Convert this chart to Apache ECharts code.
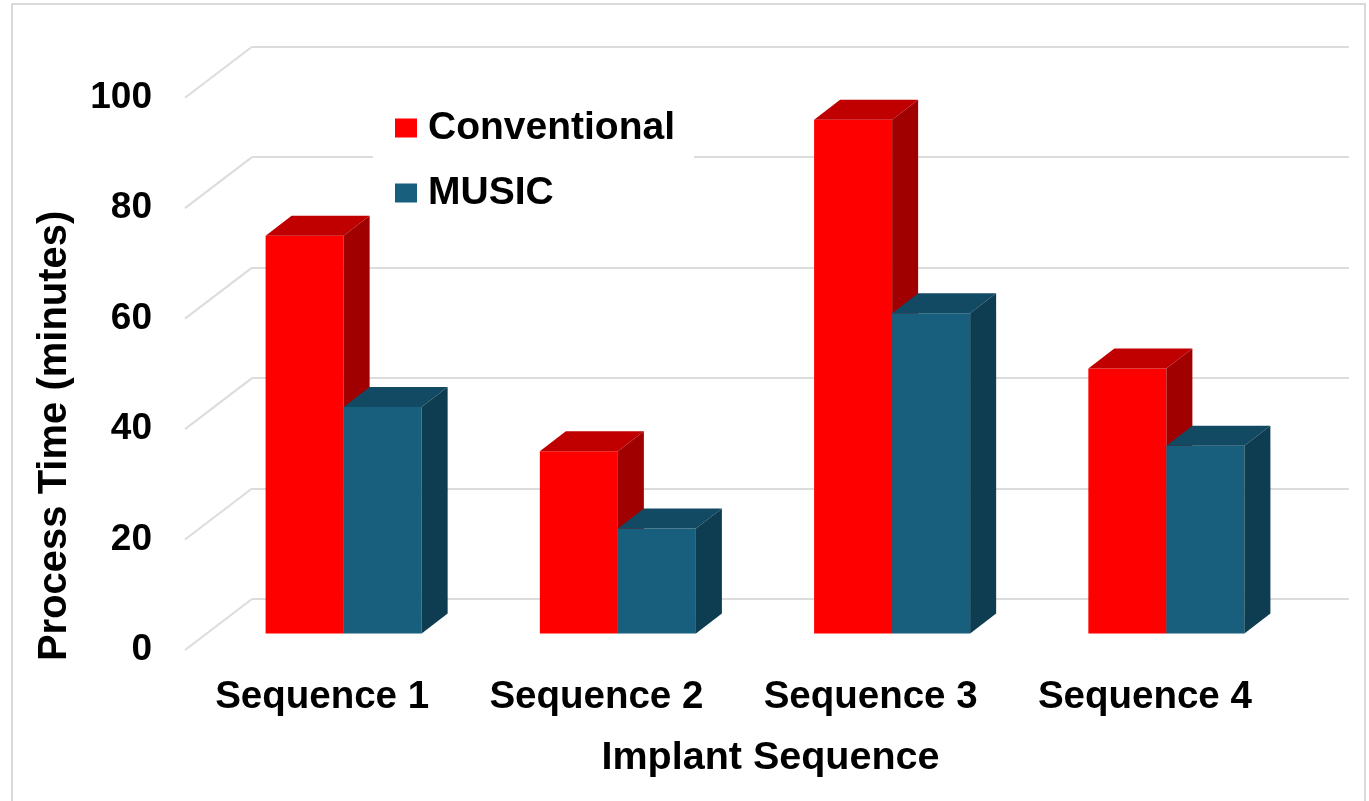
<!DOCTYPE html>
<html>
<head>
<meta charset="utf-8">
<title>Process Time by Implant Sequence</title>
<script src="https://cdn.jsdelivr.net/npm/echarts@6/dist/echarts.min.js"></script>
<style>
  html, body { margin: 0; padding: 0; background: #ffffff; }
  #chart { width: 1369px; height: 801px; }
</style>
</head>
<body>
<div id="chart"></div>
<script>
// ---- data ----
const CATEGORIES = ['Sequence 1', 'Sequence 2', 'Sequence 3', 'Sequence 4'];
const SERIES_NAMES = ['Conventional', 'MUSIC'];
const CONVENTIONAL = [72, 33, 93, 48];
const MUSIC = [41, 19, 58, 34];
const Y_TICKS = [0, 20, 40, 60, 80, 100];

// ---- styling ----
const FONT = "'Liberation Sans', Arial, sans-serif";
const FACE_COLORS = [
  { front: '#FF0000', top: '#C00000', side: '#A00000' },
  { front: '#185F7E', top: '#124A63', side: '#0E3C51' }
];
const PLOT_W = 1097;
const PLOT_H = 552.3;
const BAR_FRAC = 0.2845;          // bar width as share of a category band
const BAR_DEPTH = [26, -20];      // receding offset of a bar's top/side faces
const FLOOR_DEPTH = [67, -51];    // front edge of floor -> back wall

const chart = echarts.init(document.getElementById('chart'), null, { renderer: 'canvas' });

function barRenderer(seriesIdx) {
  const c = FACE_COLORS[seriesIdx];
  return function (params, api) {
    const cat = api.value(0);
    const val = api.value(1);
    const top = api.coord([cat, val]);
    const base = api.coord([cat, 0]);
    const band = api.size([1, 0])[0];
    const w = band * BAR_FRAC;
    const x0 = seriesIdx === 0 ? top[0] - w : top[0];
    const x1 = x0 + w;
    const yt = top[1], yb = base[1];
    const dx = BAR_DEPTH[0], dy = BAR_DEPTH[1];
    return {
      type: 'group',
      children: [
        { type: 'polygon', shape: { points: [[x0, yt], [x1, yt], [x1, yb], [x0, yb]] },
          style: { fill: c.front } },
        { type: 'polygon', shape: { points: [[x0, yt], [x1, yt], [x1 + dx, yt + dy], [x0 + dx, yt + dy]] },
          style: { fill: c.top } },
        { type: 'polygon', shape: { points: [[x1, yt], [x1 + dx, yt + dy], [x1 + dx, yb + dy], [x1, yb]] },
          style: { fill: c.side } }
      ]
    };
  };
}

function sideWallRenderer(params, api) {
  const p = api.coord([0, api.value(1)]);
  const x = params.coordSys.x;
  return {
    type: 'line',
    shape: { x1: x, y1: p[1], x2: x + FLOOR_DEPTH[0], y2: p[1] + FLOOR_DEPTH[1] },
    style: { stroke: '#dcdcdc', lineWidth: 2 }
  };
}

const valueAxisBase = { type: 'value', min: 0, max: 100, interval: 20 };

const option = {
  animation: false,
  backgroundColor: '#ffffff',
  graphic: [{
    type: 'rect', silent: true, z: -10,
    shape: { x: 12, y: 4, width: 1353, height: 820 },
    style: { fill: 'none', stroke: '#d9d9d9', lineWidth: 2 }
  }],
  legend: {
    data: SERIES_NAMES,
    orient: 'vertical',
    left: 373, top: 94,
    backgroundColor: '#ffffff',
    padding: [14, 19, 10, 22],
    itemWidth: 22, itemHeight: 19, itemGap: 25,
    icon: 'rect',
    textStyle: { fontFamily: FONT, fontSize: 39, fontWeight: 'bold', color: '#000000',
                 lineHeight: 40, padding: [0, 0, 0, 6] }
  },
  grid: [
    // back wall
    { left: 252, top: 46.7, width: PLOT_W, height: PLOT_H },
    // front edge of the floor (axis labels)
    { left: 185, top: 97.7, width: PLOT_W, height: PLOT_H },
    // plane of the bars' front faces
    { left: 206.5, top: 81.2, width: PLOT_W, height: PLOT_H }
  ],
  xAxis: [
    { gridIndex: 0, type: 'category', data: CATEGORIES, show: false },
    { gridIndex: 1, type: 'category', data: CATEGORIES,
      axisLine: { show: false }, axisTick: { show: false }, splitLine: { show: false },
      axisLabel: { interval: 0, hideOverlap: false, fontFamily: FONT, fontSize: 38.5,
                   fontWeight: 'bold', color: '#000000', margin: 28, lineHeight: 38 },
      name: 'Implant Sequence', nameLocation: 'middle', nameGap: 89,
      nameTextStyle: { fontFamily: FONT, fontSize: 39.5, fontWeight: 'bold', color: '#000000',
                       lineHeight: 39, padding: [0, 0, 0, 74] } },
    { gridIndex: 2, type: 'category', data: CATEGORIES, show: false }
  ],
  yAxis: [
    Object.assign({ gridIndex: 0, axisLine: { show: false }, axisTick: { show: false },
      axisLabel: { show: false },
      splitLine: { show: true, lineStyle: { color: '#dcdcdc', width: 2 } } }, valueAxisBase),
    Object.assign({ gridIndex: 1, axisLine: { show: false }, axisTick: { show: false },
      splitLine: { show: false },
      axisLabel: { fontFamily: FONT, fontSize: 37, fontWeight: 'bold', color: '#000000', margin: 33 },
      name: 'Process Time (minutes)', nameLocation: 'middle', nameRotate: 90, nameGap: 110,
      nameTextStyle: { fontFamily: FONT, fontSize: 40, fontWeight: 'bold', color: '#000000',
                       lineHeight: 40, padding: [0, 124, 0, 0] } }, valueAxisBase),
    Object.assign({ gridIndex: 2, show: false }, valueAxisBase)
  ],
  series: [
    {
      type: 'custom', name: 'walls', silent: true,
      xAxisIndex: 1, yAxisIndex: 1, z: 1,
      data: Y_TICKS.map(v => [0, v]),
      renderItem: sideWallRenderer
    },
    {
      type: 'custom', name: SERIES_NAMES[0],
      xAxisIndex: 2, yAxisIndex: 2, z: 2,
      itemStyle: { color: FACE_COLORS[0].front },
      data: CONVENTIONAL.map((v, i) => [i, v]),
      renderItem: barRenderer(0)
    },
    {
      type: 'custom', name: SERIES_NAMES[1],
      xAxisIndex: 2, yAxisIndex: 2, z: 3,
      itemStyle: { color: FACE_COLORS[1].front },
      data: MUSIC.map((v, i) => [i, v]),
      renderItem: barRenderer(1)
    }
  ]
};

chart.setOption(option);
</script>
</body>
</html>
